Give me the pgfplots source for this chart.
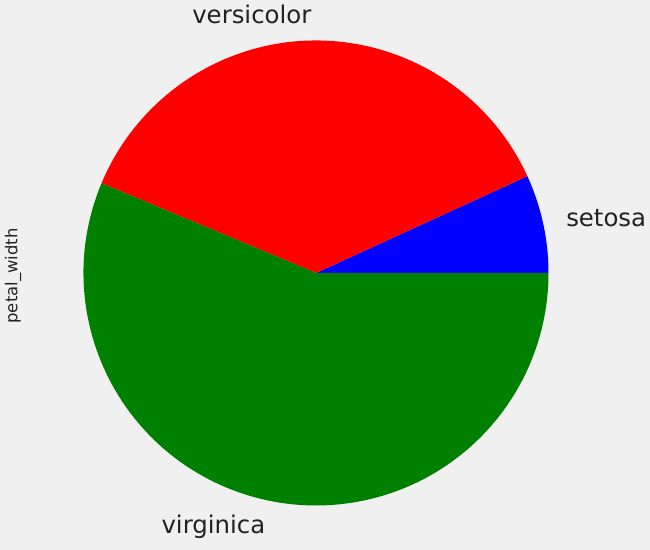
\documentclass[border=0pt]{standalone}
\usepackage{pgfplots}
\usepackage{pgfplotstable}
\pgfplotsset{compat=1.18}
\usepackage{fontspec}
\setmainfont{DejaVu Sans}

\definecolor{bg}{HTML}{F0F0F0}
\definecolor{txt}{HTML}{222222}
\definecolor{grn}{HTML}{008000}

% sum of petal_width per species
\pgfplotstableread{
species value
setosa 12.3
versicolor 66.3
virginica 101.3
}\petal

\pgfplotstablegetelem{0}{value}\of\petal \let\va\pgfplotsretval
\pgfplotstablegetelem{1}{value}\of\petal \let\vb\pgfplotsretval
\pgfplotstablegetelem{2}{value}\of\petal \let\vc\pgfplotsretval
\pgfmathsetmacro\tot{\va+\vb+\vc}
\pgfmathsetmacro\aA{\va/\tot*360}
\pgfmathsetmacro\aB{\aA+\vb/\tot*360}
\pgfmathsetmacro\mA{\aA/2}
\pgfmathsetmacro\mB{(\aA+\aB)/2}
\pgfmathsetmacro\mC{(\aB+360)/2}

\begin{document}
\begin{tikzpicture}
\begin{axis}[
  hide axis, scale only axis, clip=false,
  x=0.5pt, y=0.5pt, y dir=reverse,
  xmin=0, xmax=650, ymin=0, ymax=550]
\fill[bg] (axis cs:0,0) rectangle (axis cs:650,550);
\def\r{116.25pt}
\def\cx{316}\def\cy{273}
\fill[blue] (axis cs:\cx,\cy) -- ++(0:\r) arc[start angle=0, end angle=\aA, radius=\r] -- cycle;
\fill[red] (axis cs:\cx,\cy) -- ++(\aA:\r) arc[start angle=\aA, end angle=\aB, radius=\r] -- cycle;
\fill[grn] (axis cs:\cx,\cy) -- ++(\aB:\r) arc[start angle=\aB, end angle=360, radius=\r] -- cycle;
\begin{scope}[every node/.style={text=txt, font=\fontsize{12.2}{14}\selectfont, inner sep=0pt}]
\path (axis cs:\cx,\cy) ++(\mA:1.1*\r) node[anchor=west] {setosa};
\path (axis cs:\cx,\cy) ++(\mB:1.1*\r) ++(0,1.5pt) node[anchor=east] {versicolor};
\path (axis cs:\cx,\cy) ++(\mC:1.1*\r) ++(0,-1.5pt) node[anchor=east] {virginica};
\end{scope}
\node[text=txt, font=\fontsize{8.2}{10}\selectfont, rotate=90, inner sep=0pt] at (axis cs:13,276) {petal\_width};
\end{axis}
\end{tikzpicture}
\end{document}
